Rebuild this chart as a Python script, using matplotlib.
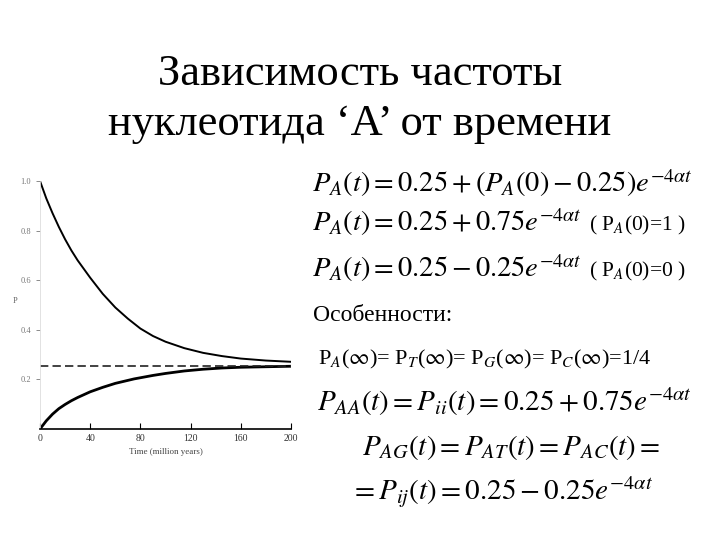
import numpy as np
import matplotlib
matplotlib.use("Agg")
import matplotlib.pyplot as plt

plt.rcParams['mathtext.fontset'] = 'stix'
plt.rcParams['font.family'] = ['Liberation Serif', 'DejaVu Serif']

# значения
t_up = [0, 5, 10, 15, 20, 25, 30, 40, 50, 60, 70, 80, 90, 100, 115, 130,
        145, 160, 180, 200]
p_up = [1.0, 0.93, 0.87, 0.815, 0.765, 0.72, 0.68, 0.61, 0.545, 0.49, 0.445,
        0.405, 0.375, 0.352, 0.326, 0.307, 0.294, 0.284, 0.276, 0.271]
t_low = [0, 5, 10, 15, 20, 25, 30, 40, 50, 60, 75, 90, 100, 115, 130, 145,
         160, 180, 200]
p_low = [0, 0.033, 0.06, 0.082, 0.099, 0.114, 0.127, 0.15, 0.168, 0.184,
         0.202, 0.216, 0.224, 0.234, 0.241, 0.246, 0.249, 0.251, 0.253]
p_eq = 0.253
x_ticks = [0, 40, 80, 120, 160, 200]
y_ticks = [0.2, 0.4, 0.6, 0.8, 1.0]

fig = plt.figure(figsize=(7.2, 5.4), dpi=100)

# график
ax = fig.add_axes([40/720, 1 - 429/540, 251/720, 248/540])
ax.plot(t_up, p_up, color='black', lw=1.4)
ax.plot(t_low, p_low, color='black', lw=2.0)
ax.axhline(p_eq, color='#222222', lw=1.2, ls=(0, (5, 2.5)))
ax.set_xlim(0, 200)
ax.set_ylim(0, 1.0)
ax.set_xticks(x_ticks)
ax.set_xticklabels([str(v) for v in x_ticks], fontsize=7, color='#333333')
ax.set_yticks(y_ticks)
ax.set_yticklabels(['%.1f' % v for v in y_ticks], fontsize=6, color='#555555')
ax.tick_params(axis='x', direction='in', length=4, width=0.8)
ax.tick_params(axis='y', direction='out', length=3, width=0.6, colors='#777777')
for s in ['top', 'right']:
    ax.spines[s].set_visible(False)
ax.spines['left'].set_color('#dddddd')
ax.spines['left'].set_linewidth(0.6)
ax.spines['bottom'].set_linewidth(1.2)
ax.set_xlabel('Time (million years)', fontsize=6.5, color='#444444', labelpad=4)
ax.set_ylabel('P', fontsize=6, color='#666666', rotation=0, labelpad=4)

# заголовок
fig.text(0.5, 1 - 85/540, 'Зависимость частоты', ha='center', va='baseline',
         fontsize=32)
fig.text(0.5, 1 - 135/540, 'нуклеотида ‘A’ от времени', ha='center',
         va='baseline', fontsize=32)

# формулы
def ftext(x, y, s, size):
    fig.text(x/720, 1 - y/540, s, ha='left', va='baseline', fontsize=size)

ftext(312, 192, r'$P_A(t) = 0.25 + (P_A(0) - 0.25)e^{-4\alpha t}$', 20.5)
ftext(312, 231, r'$P_A(t) = 0.25 + 0.75e^{-4\alpha t}$', 20.5)
ftext(589, 230, r'( P$_{A}$(0)=1 )', 15.5)
ftext(312, 277, r'$P_A(t) = 0.25 - 0.25e^{-4\alpha t}$', 20.5)
ftext(589, 276, r'( P$_{A}$(0)=0 )', 15.5)
ftext(313, 321, 'Особенности:', 17)
ftext(318, 364, r'P$_{A}$($\infty$)= P$_{T}$($\infty$)= P$_{G}$($\infty$)= P$_{C}$($\infty$)=1/4', 16)
ftext(317, 411, r'$P_{AA}(t) = P_{ii}(t) = 0.25 + 0.75e^{-4\alpha t}$', 21)
ftext(362, 455, r'$P_{AG}(t) = P_{AT}(t) = P_{AC}(t) =$', 21)
ftext(350, 500, r'$= P_{ij}(t) = 0.25 - 0.25e^{-4\alpha t}$', 21)

fig.savefig('out.png', dpi=100)
